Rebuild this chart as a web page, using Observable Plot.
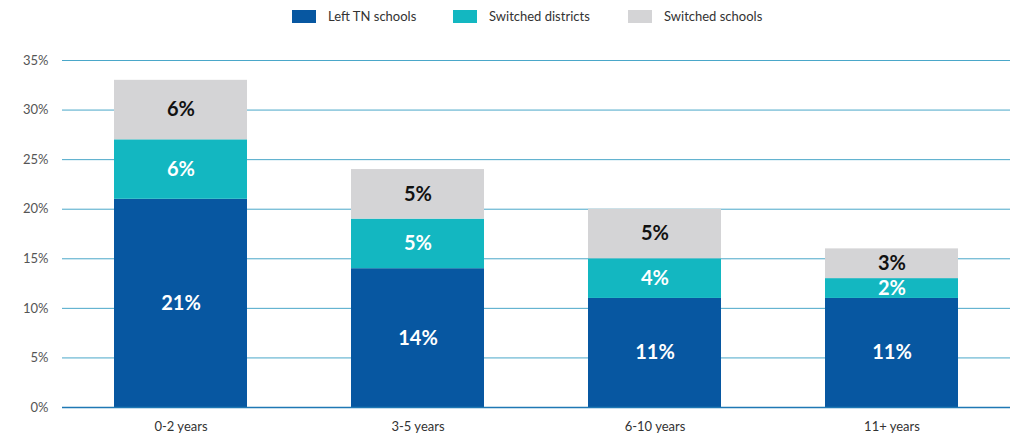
<!DOCTYPE html>
<html><head><meta charset="utf-8">
<script src="https://cdn.jsdelivr.net/npm/d3@7"></script>
<script src="https://cdn.jsdelivr.net/npm/@observablehq/plot@0.6"></script>
<style>
body{margin:0;background:#fff;font-family:Lato,"Open Sans",sans-serif;}
#legend{height:30px;position:relative;font-size:13px;color:#333;}
.item{position:absolute;top:8px;display:flex;align-items:center;}
.sw{width:24px;height:13px;margin-right:12px;}
</style></head>
<body>
<div id="legend"></div>
<div id="chart"></div>
<script>
const categories = ["0-2 years", "3-5 years", "6-10 years", "11+ years"];
const series = ["Left TN schools", "Switched districts", "Switched schools"];
const leftTN = [21, 14, 11, 11];
const switchedDistricts = [6, 5, 4, 2];
const switchedSchools = [6, 5, 5, 3];
const yTicks = [0, 5, 10, 15, 20, 25, 30, 35];
const colors = ["#0757a1", "#13b7c1", "#d4d4d6"];
const textColors = ["#ffffff", "#ffffff", "#111111"];

const valuesBySeries = [leftTN, switchedDistricts, switchedSchools];
const data = [];
series.forEach((s, si) => categories.forEach((c, ci) => data.push({cat: c, series: s, value: valuesBySeries[si][ci]})));

const legendX = [292, 453, 628];
const leg = document.getElementById("legend");
series.forEach((s, i) => {
  const d = document.createElement("div");
  d.className = "item";
  d.style.left = legendX[i] + "px";
  d.innerHTML = `<span class="sw" style="background:${colors[i]}"></span><span>${s}</span>`;
  leg.appendChild(d);
});

const chart = Plot.plot({
  width: 1018,
  height: 407,
  marginTop: 30,
  marginBottom: 30,
  marginLeft: 62,
  marginRight: 8,
  style: {fontFamily: "Lato, 'Open Sans', sans-serif"},
  x: {domain: categories, paddingInner: 0.44, paddingOuter: 0.22, label: null, tickSize: 0, tickPadding: 14},
  y: {domain: [0, 35], ticks: yTicks, tickFormat: d => d + "%", label: null, tickSize: 0, tickPadding: 14},
  color: {domain: series, range: colors},
  marks: [
    Plot.ruleY(yTicks.filter(d => d > 0), {stroke: "#4aa7c9", strokeWidth: 1}),
    Plot.barY(data, Plot.stackY({x: "cat", y: "value", fill: "series", order: series})),
    Plot.ruleY([0], {stroke: "#1f78b4", strokeWidth: 1.5}),
    Plot.text(data, Plot.stackY({x: "cat", y: "value", order: series, text: d => d.value + "%",
      fill: d => textColors[series.indexOf(d.series)], fontSize: 20, fontWeight: "bold"}))
  ]
});
chart.querySelectorAll('g[aria-label="y-axis tick label"]').forEach(g => { g.setAttribute("font-size", "13"); g.setAttribute("fill", "#555"); });
chart.querySelectorAll('g[aria-label="x-axis tick label"]').forEach(g => { g.setAttribute("font-size", "13"); g.setAttribute("fill", "#333"); });
document.getElementById("chart").appendChild(chart);
</script>
</body></html>
